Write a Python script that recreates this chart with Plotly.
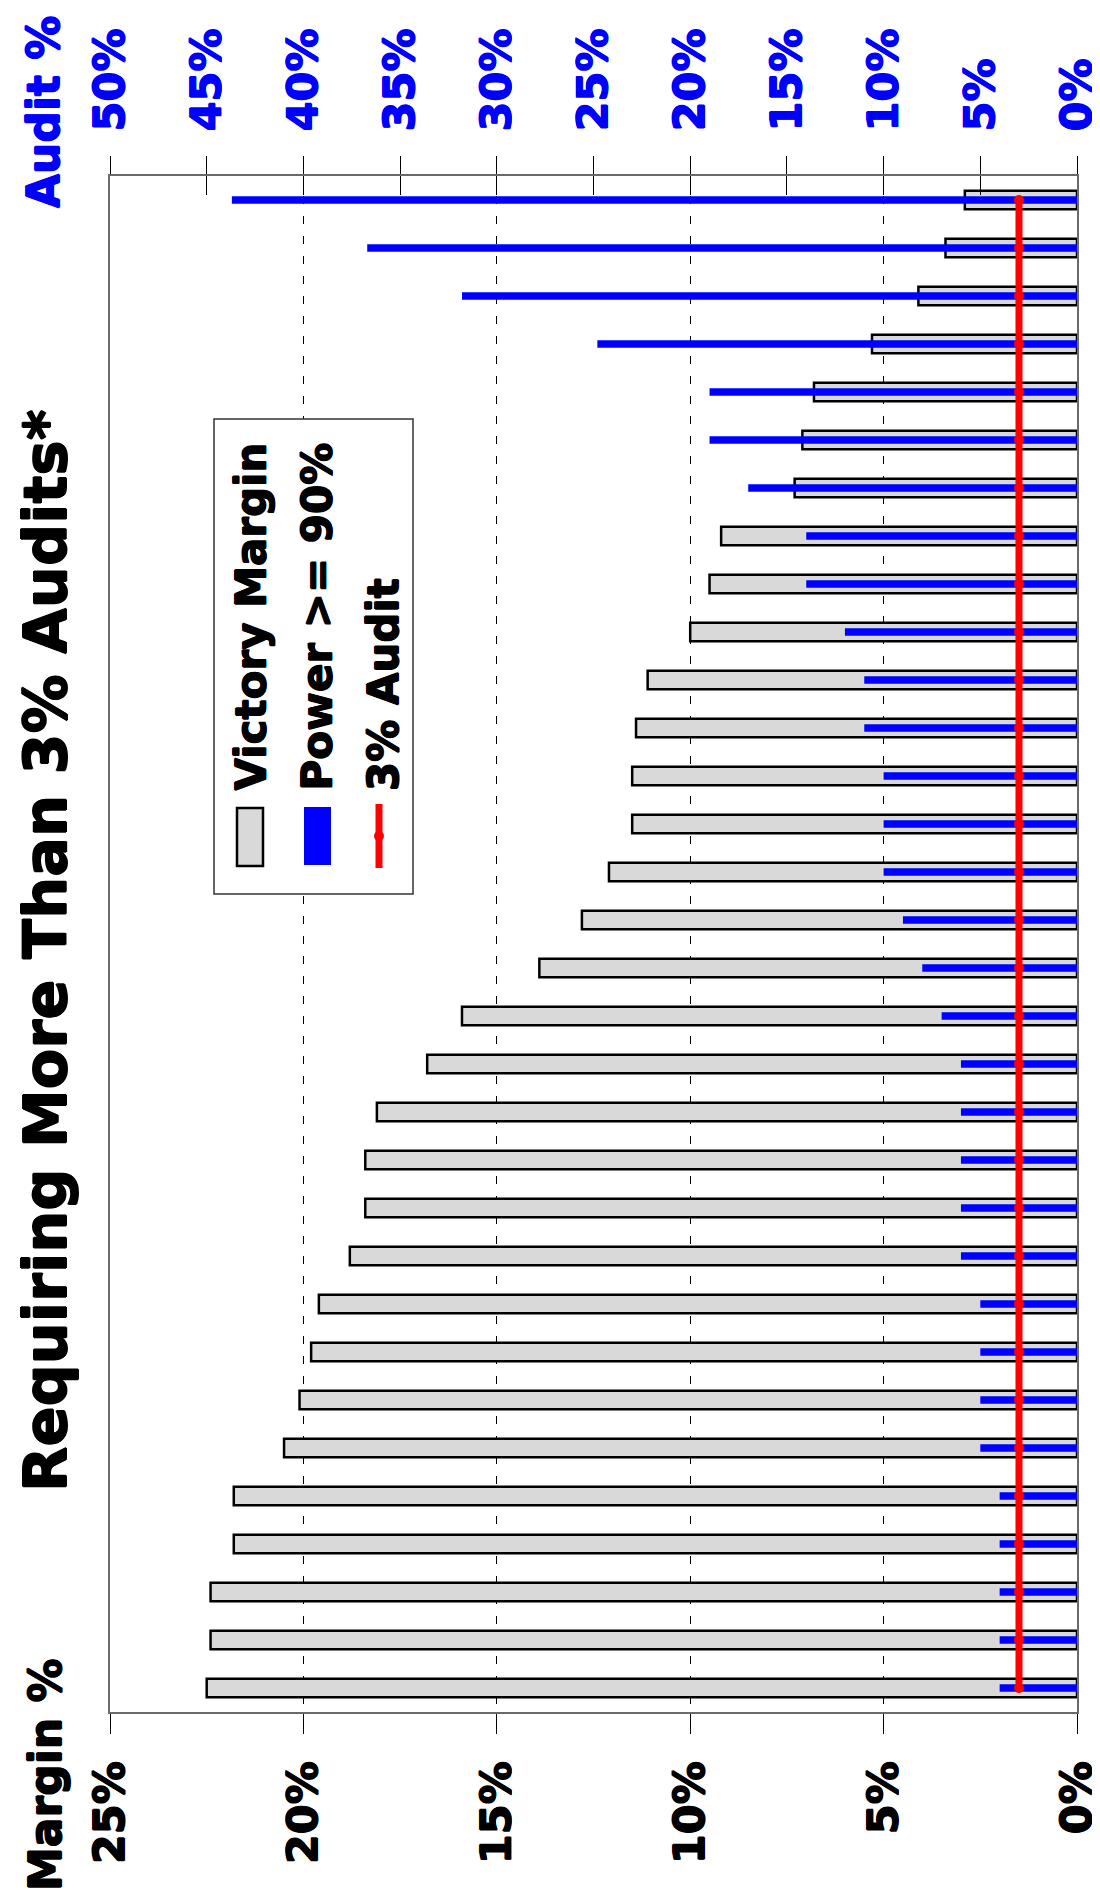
import plotly.graph_objects as go

# ---------------- data ----------------
races = ["R01", "R02", "R03", "R04", "R05", "R06", "R07", "R08", "R09", "R10",
         "R11", "R12", "R13", "R14", "R15", "R16", "R17", "R18", "R19", "R20",
         "R21", "R22", "R23", "R24", "R25", "R26", "R27", "R28", "R29", "R30",
         "R31", "R32"]
victory_margin = [2.9, 3.4, 4.1, 5.3, 6.8, 7.1, 7.3, 9.2, 9.5, 10.0,
                  11.1, 11.4, 11.5, 11.5, 12.1, 12.8, 13.9, 15.9, 16.8, 18.1,
                  18.4, 18.4, 18.8, 19.6, 19.8, 20.1, 20.5, 21.8, 21.8, 22.4,
                  22.4, 22.5]
audit_power90 = [43.7, 36.7, 31.8, 24.8, 19, 19, 17, 14, 14, 12,
                 11, 11, 10, 10, 10, 9, 8, 7, 6, 6,
                 6, 6, 6, 5, 5, 5, 5, 4, 4, 4,
                 4, 4]
audit_3pct = [3, 3, 3, 3, 3, 3, 3, 3, 3, 3,
              3, 3, 3, 3, 3, 3, 3, 3, 3, 3,
              3, 3, 3, 3, 3, 3, 3, 3, 3, 3,
              3, 3]
title_text = "Requiring More Than 3% Audits*"
margin_axis_title = "Margin %"
audit_axis_title = "Audit %"
legend_names = ["Victory Margin", "Power >= 90%", "3% Audit"]

# ---------------- layout geometry ----------------
W, H = 1100, 1896
L, R, T, B = 102, 1069, 168, 1704
FONT = "DejaVu Sans"
TICK_SIZE = 43


def heavy(color):
    # thin outline of the same colour to make the glyphs heavier
    return (f"0.7px 0 0 {color}, -0.7px 0 0 {color}, "
            f"0 0.7px 0 {color}, 0 -0.7px 0 {color}")


def px(x):
    return (x - L) / (R - L)


def py(y):
    return (B - y) / (B - T)


fig = go.Figure()

fig.add_trace(go.Bar(
    x=victory_margin, y=races, orientation="h", xaxis="x", yaxis="y",
    width=0.39, name=legend_names[0],
    marker=dict(color="#d9d9d9", line=dict(color="black", width=2.5)),
    showlegend=False,
))
fig.add_trace(go.Bar(
    x=audit_power90, y=races, orientation="h", xaxis="x2", yaxis="y",
    width=0.16, name=legend_names[1],
    marker=dict(color="#0000ff", line=dict(width=0)),
    showlegend=False,
))
fig.add_trace(go.Scatter(
    x=audit_3pct, y=races, xaxis="x3", yaxis="y", mode="lines+markers",
    name=legend_names[2],
    line=dict(color="#ff0000", width=7),
    marker=dict(color="#ff0000", size=10),
    showlegend=False,
))

axis_line = dict(showline=True, linecolor="#6a6a6a", linewidth=2)

fig.update_layout(
    width=W, height=H,
    margin=dict(l=L, r=W - R, t=T, b=H - B, pad=0, autoexpand=False),
    paper_bgcolor="white", plot_bgcolor="white",
    barmode="overlay",
    showlegend=False,
    font=dict(family=FONT, weight="bold", color="black"),
    xaxis=dict(
        range=[25, 0], dtick=5, tick0=0, ticksuffix="%",
        side="bottom", anchor="y", mirror=True, **axis_line,
        ticks="outside", ticklen=20, tickwidth=1, tickcolor="black",
        tickangle=-90,
        tickfont=dict(size=TICK_SIZE, family=FONT, weight="bold", color="black",
                      shadow=heavy("black")),
        ticklabelstandoff=10, ticklabeloverflow="allow", automargin=False,
        showgrid=True, gridcolor="black", gridwidth=1, griddash="8px,12px",
        zeroline=False, fixedrange=True,
    ),
    xaxis2=dict(
        range=[50, 0], dtick=5, tick0=0, ticksuffix="%",
        side="top", overlaying="x", anchor="y",
        showline=True, linecolor="#6a6a6a", linewidth=2,
        ticks="outside", ticklen=18, tickwidth=1, tickcolor="black",
        tickangle=-90,
        tickfont=dict(size=TICK_SIZE, family=FONT, weight="bold", color="#0000ff",
                      shadow=heavy("#0000ff")),
        ticklabelstandoff=16, ticklabeloverflow="allow", automargin=False,
        showgrid=False, zeroline=False,
    ),
    xaxis3=dict(
        range=[50, 0], dtick=5, tick0=0,
        side="top", overlaying="x", anchor="y",
        showline=False, showticklabels=False, automargin=False,
        ticks="inside", ticklen=19, tickwidth=1, tickcolor="black",
        showgrid=False, zeroline=False,
    ),
    yaxis=dict(
        type="category", categoryorder="array", categoryarray=races,
        range=[len(races) - 0.5, -0.5], automargin=False,
        showticklabels=False, ticks="", showgrid=False, zeroline=False,
        mirror=True, **axis_line,
    ),
)

annotations = [
    dict(text=title_text, x=px(37), y=py(943), xanchor="center", yanchor="middle",
         textangle=-90, font=dict(size=59, color="black", family=FONT, weight="bold",
                                  shadow=heavy("black"))),
    dict(text=audit_axis_title, x=px(36), y=py(104), xanchor="center", yanchor="middle",
         textangle=-90, font=dict(size=44, color="#0000ff", family=FONT, weight="bold",
                                  shadow=heavy("#0000ff"))),
    dict(text=margin_axis_title, x=px(37), y=py(1767), xanchor="center", yanchor="middle",
         textangle=-90, font=dict(size=44, color="black", family=FONT, weight="bold",
                                  shadow=heavy("black"))),
]
legend_x = [242.5, 308.5, 375.5]
for name, lx in zip(legend_names, legend_x):
    annotations.append(dict(text=name, x=px(lx), y=py(785), xanchor="center", yanchor="bottom",
                            textangle=-90,
                            font=dict(size=42, color="black", family=FONT, weight="bold",
                                      shadow=heavy("black"))))
for a in annotations:
    a.update(xref="paper", yref="paper", showarrow=False)
fig.update_layout(annotations=annotations)

shapes = [
    # legend frame
    dict(type="rect", x0=px(206), x1=px(405), y0=py(886), y1=py(411),
         line=dict(color="#333333", width=1.5), fillcolor="white", layer="above"),
    # legend swatches
    dict(type="rect", x0=px(229), x1=px(255), y0=py(858), y1=py(800),
         line=dict(color="black", width=2.5), fillcolor="#d9d9d9", layer="above"),
    dict(type="rect", x0=px(296), x1=px(323), y0=py(857), y1=py(799),
         line=dict(width=0), fillcolor="#0000ff", layer="above"),
    dict(type="line", x0=px(371), x1=px(371), y0=py(860), y1=py(796),
         line=dict(color="#ff0000", width=7), layer="above"),
    dict(type="circle", x0=px(366), x1=px(376), y0=py(833), y1=py(823),
         line=dict(width=0), fillcolor="#ff0000", layer="above"),
]
for s in shapes:
    s.update(xref="paper", yref="paper")
fig.update_layout(shapes=shapes)

fig.write_html("out.html")
